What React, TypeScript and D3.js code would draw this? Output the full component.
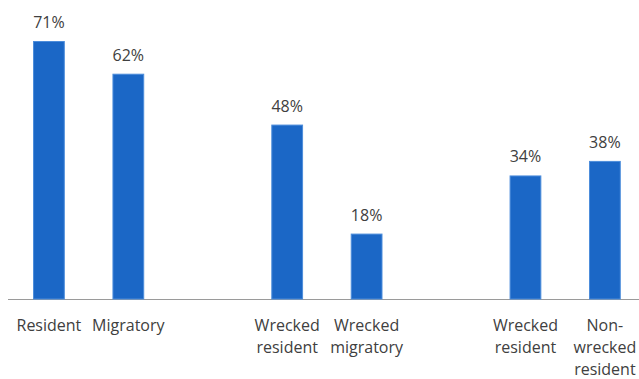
import React from "react";
import * as d3 from "d3";

const categories = ["Resident", "Migratory", "gap1", "Wrecked\nresident", "Wrecked\nmigratory", "gap2", "Wrecked\nresident ", "Non-\nwrecked\nresident"];
const values: (number | null)[] = [71, 62, null, 48, 18, null, 34, 38];

const W = 639, H = 379;
const baseY = 299;
const x = d3.scaleBand<string>().domain(categories).range([9.2, 644.6]).paddingInner(0.6).paddingOuter(0.3);
const y = d3.scaleLinear().domain([0, 71]).range([baseY, 41]);

export default function App() {
  const font = "'Open Sans', sans-serif";
  return (
    <svg width={W} height={H} style={{ position: "absolute", left: 0, top: 0, background: "#fff" }}>
      <line x1={8} x2={639} y1={baseY + 0.5} y2={baseY + 0.5} stroke="#9a9a9a" strokeWidth={1} />
      {categories.map((c, i) => {
        const v = values[i];
        if (v == null) return null;
        const bx = x(c)!;
        const bw = x.bandwidth();
        return (
          <g key={c}>
            <rect x={bx + 0.5} y={y(v) + 0.5} width={bw - 1} height={baseY - y(v) - 0.5} fill="#1b67c6" stroke="#4d8ddb" strokeWidth={1} />
            <text x={bx + bw / 2} y={y(v) - 13} textAnchor="middle" fontFamily={font} fontSize={16} fill="#404040">{v}%</text>
          </g>
        );
      })}
      {categories.map((c, i) => {
        if (values[i] == null) return null;
        const lines = c.trim().split("\n");
        const cx = x(c)! + x.bandwidth() / 2;
        return (
          <text key={"l" + c} x={cx} y={331} textAnchor="middle" fontFamily={font} fontSize={16} fill="#404040">
            {lines.map((l, j) => (
              <tspan key={j} x={cx} dy={j === 0 ? 0 : 22}>{l}</tspan>
            ))}
          </text>
        );
      })}
    </svg>
  );
}
